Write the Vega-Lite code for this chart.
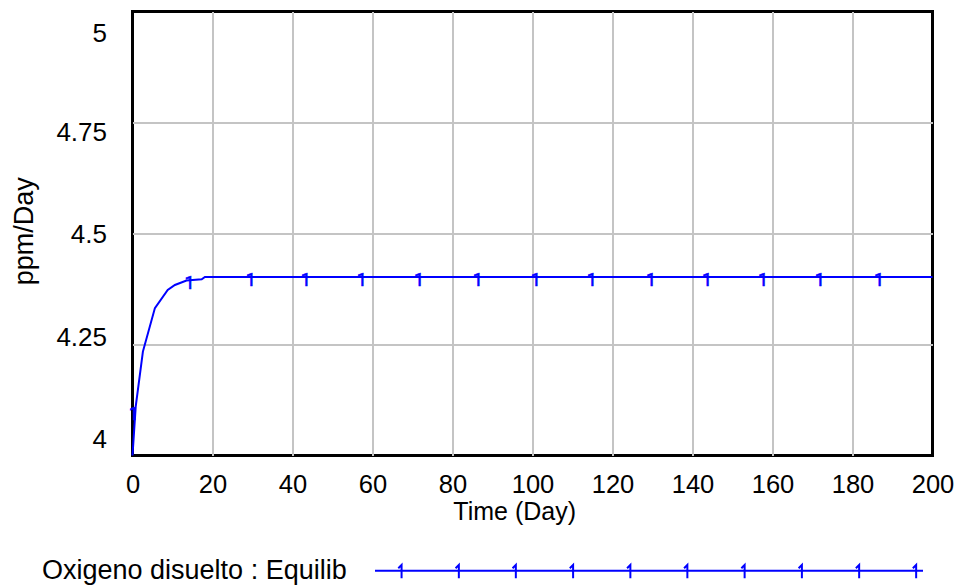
{
  "$schema": "https://vega.github.io/schema/vega-lite/v6.json",
  "width": 800,
  "height": 444,
  "autosize": "none",
  "padding": {"left": 132.5, "top": 11.5, "right": 40.5, "bottom": 131.5},
  "background": "white",
  "config": {
    "font": "Liberation Sans",
    "view": {"stroke": "black", "strokeWidth": 3},
    "axis": {
      "labelFont": "Liberation Sans",
      "titleFont": "Liberation Sans",
      "labelColor": "black",
      "titleColor": "black",
      "titleFontWeight": "normal",
      "domain": false,
      "ticks": false,
      "gridColor": "#c4c4c4",
      "gridWidth": 2,
      "labelFlush": false,
      "labelOverlap": false,
      "labelBound": false
    }
  },
  "datasets": {
    "curve": [
      {"time": 0, "value": 4.0, "series": "Oxigeno disuelto : Equilib"},
      {"time": 0.8, "value": 4.11, "series": "Oxigeno disuelto : Equilib"},
      {"time": 2.6, "value": 4.234, "series": "Oxigeno disuelto : Equilib"},
      {"time": 5.6, "value": 4.332, "series": "Oxigeno disuelto : Equilib"},
      {"time": 8.8, "value": 4.373, "series": "Oxigeno disuelto : Equilib"},
      {"time": 10.6, "value": 4.384, "series": "Oxigeno disuelto : Equilib"},
      {"time": 13.5, "value": 4.394, "series": "Oxigeno disuelto : Equilib"},
      {"time": 17.3, "value": 4.397, "series": "Oxigeno disuelto : Equilib"},
      {"time": 18.1, "value": 4.402, "series": "Oxigeno disuelto : Equilib"},
      {"time": 200, "value": 4.402, "series": "Oxigeno disuelto : Equilib"}
    ],
    "markers": [
      {"time": 0.6, "value": 4.1},
      {"time": 14.5, "value": 4.395},
      {"time": 29.8, "value": 4.402},
      {"time": 43.6, "value": 4.402},
      {"time": 57.6, "value": 4.402},
      {"time": 71.9, "value": 4.402},
      {"time": 86.6, "value": 4.402},
      {"time": 101.1, "value": 4.402},
      {"time": 115.1, "value": 4.402},
      {"time": 129.9, "value": 4.402},
      {"time": 143.9, "value": 4.402},
      {"time": 157.9, "value": 4.402},
      {"time": 172.1, "value": 4.402},
      {"time": 186.9, "value": 4.402}
    ]
  },
  "layer": [
    {
      "data": {"name": "curve"},
      "mark": {"type": "line", "strokeWidth": 2},
      "encoding": {
        "x": {
          "field": "time",
          "type": "quantitative",
          "scale": {"domain": [0, 200], "nice": false},
          "axis": {
            "values": [0, 10, 20, 30, 40, 50, 60, 70, 80, 90, 100, 110, 120, 130, 140, 150, 160, 170, 180, 190, 200],
            "labelExpr": "datum.value % 20 == 0 ? datum.label : ''",
            "labelFontSize": 25.5,
            "labelPadding": 16.5,
            "gridOpacity": {"condition": {"test": "datum.value == 0 || datum.value == 200", "value": 0}, "value": 1},
            "title": "Time (Day)",
            "titleFontSize": 25,
            "titleX": 381.7,
            "titleY": 64.3,
            "titleBaseline": "alphabetic",
            "titleAlign": "center"
          }
        },
        "y": {
          "field": "value",
          "type": "quantitative",
          "scale": {"domain": [4, 5], "nice": false, "zero": false},
          "axis": {
            "values": [4, 4.25, 4.5, 4.75, 5],
            "labelExpr": "datum.value + ''",
            "labelFontSize": 26,
            "labelPadding": 26,
            "labelBaseline": "middle",
            "labelAlign": "right",
            "labelOffset": {
              "condition": [
                {"test": "datum.value == 5", "value": 21.5},
                {"test": "datum.value == 4.75", "value": 9.5},
                {"test": "datum.value == 4.25", "value": -7},
                {"test": "datum.value == 4", "value": -16.5}
              ],
              "value": 1
            },
            "gridOpacity": {"condition": {"test": "datum.value == 4 || datum.value == 5", "value": 0}, "value": 1},
            "title": "ppm/Day",
            "titleFontSize": 27,
            "titleAngle": -90,
            "titleX": -100,
            "titleY": 219.3,
            "titleBaseline": "alphabetic",
            "titleAlign": "center"
          }
        },
        "color": {
          "field": "series",
          "type": "nominal",
          "scale": {"range": ["#0000ff"]},
          "legend": {
            "orient": "none",
            "legendX": -90.5,
            "legendY": 549.2,
            "title": "Oxigeno disuelto : Equilib",
            "titleOrient": "left",
            "titleFontSize": 27,
            "titleFont": "Liberation Sans",
            "titleFontWeight": "normal",
            "titleColor": "black",
            "titleAnchor": "middle",
            "titleBaseline": "middle",
            "titlePadding": 27,
            "titleLimit": 600,
            "clipHeight": 20,
            "labelExpr": "''",
            "symbolType": "M-1,0H1M-0.903,0.028V-0.021L-0.915,-0.009M-0.694,0.028V-0.021L-0.706,-0.009M-0.486,0.028V-0.021L-0.498,-0.009M-0.277,0.028V-0.021L-0.289,-0.009M-0.068,0.028V-0.021L-0.08,-0.009M0.14,0.028V-0.021L0.128,-0.009M0.349,0.028V-0.021L0.337,-0.009M0.558,0.028V-0.021L0.546,-0.009M0.767,0.028V-0.021L0.755,-0.009M0.975,0.028V-0.021L0.963,-0.009",
            "symbolSize": 300304,
            "symbolStrokeWidth": 2,
            "symbolStrokeColor": "#0000ff",
            "symbolFillColor": "transparent",
            "padding": 0,
            "symbolOffset": 0,
            "labelOffset": 0
          }
        }
      }
    },
    {
      "data": {"name": "markers"},
      "mark": {"type": "text", "text": "1", "fontSize": 18, "font": "Roboto", "color": "#0000ff", "stroke": "#0000ff", "strokeWidth": 0.6, "baseline": "alphabetic", "align": "center", "dy": 8.5, "dx": -1},
      "encoding": {
        "x": {"field": "time", "type": "quantitative"},
        "y": {"field": "value", "type": "quantitative"}
      }
    }
  ]
}
